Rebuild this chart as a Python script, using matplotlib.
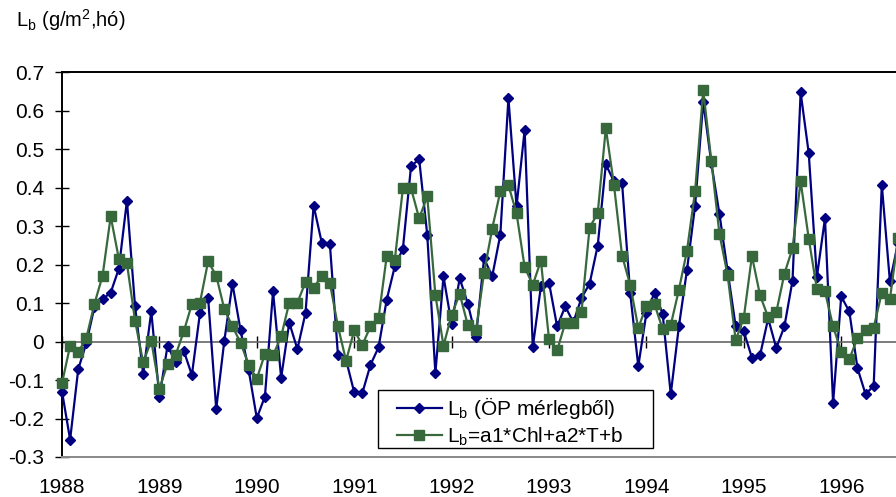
import numpy as np
import matplotlib
matplotlib.use("Agg")
import matplotlib.pyplot as plt
from matplotlib.patches import Rectangle

# monthly values, Jan 1988 onwards
lb_measured = [
    -0.130, -0.255, -0.072, -0.004, 0.090, 0.110, 0.127, 0.189, 0.366, 0.091, -0.084, 0.078,
    -0.145, -0.011, -0.054, -0.024, -0.087, 0.074, 0.114, -0.175, 0.002, 0.150, 0.029, -0.074,
    -0.199, -0.143, 0.130, -0.094, 0.049, -0.020, 0.074, 0.353, 0.257, 0.254, -0.036, -0.048,
    -0.132, -0.134, -0.061, -0.015, 0.108, 0.195, 0.241, 0.455, 0.474, 0.277, -0.082, 0.169,
    0.045, 0.164, 0.098, 0.011, 0.216, 0.169, 0.277, 0.632, 0.351, 0.550, -0.015, 0.143,
    0.153, 0.039, 0.091, 0.050, 0.113, 0.150, 0.249, 0.460, 0.416, 0.412, 0.126, -0.064,
    0.074, 0.127, 0.072, -0.137, 0.039, 0.186, 0.353, 0.623, 0.463, 0.331, 0.184, 0.039,
    0.026, -0.042, -0.036, 0.060, -0.017, 0.039, 0.158, 0.647, 0.489, 0.167, 0.320, -0.160,
    0.117, 0.078, -0.069, -0.137, -0.115, 0.407, 0.156, 0.256,
]
lb_model = [
    -0.108, -0.011, -0.028, 0.009, 0.098, 0.171, 0.325, 0.215, 0.203, 0.054, -0.054, 0.002,
    -0.123, -0.058, -0.035, 0.026, 0.097, 0.101, 0.208, 0.171, 0.084, 0.039, -0.003, -0.061,
    -0.097, -0.032, -0.036, 0.013, 0.101, 0.101, 0.154, 0.139, 0.171, 0.152, 0.039, -0.050,
    0.029, -0.009, 0.039, 0.061, 0.221, 0.212, 0.398, 0.398, 0.320, 0.377, 0.121, -0.011,
    0.069, 0.124, 0.042, 0.029, 0.179, 0.293, 0.390, 0.406, 0.333, 0.193, 0.147, 0.210,
    0.006, -0.023, 0.048, 0.048, 0.076, 0.296, 0.333, 0.554, 0.407, 0.223, 0.147, 0.035,
    0.093, 0.097, 0.032, 0.043, 0.134, 0.236, 0.391, 0.652, 0.469, 0.279, 0.173, 0.003,
    0.062, 0.222, 0.120, 0.063, 0.076, 0.176, 0.242, 0.416, 0.267, 0.137, 0.130, 0.039,
    -0.026, -0.046, 0.009, 0.030, 0.036, 0.127, 0.110, 0.268,
]
years = [1988, 1989, 1990, 1991, 1992, 1993, 1994, 1995, 1996]
y_ticks = [-0.3, -0.2, -0.1, 0, 0.1, 0.2, 0.3, 0.4, 0.5, 0.6, 0.7]

label_measured = "L$_\\mathregular{b}$ (ÖP mérlegből)"
label_model = "L$_\\mathregular{b}$=a1*Chl+a2*T+b"
y_title = "L$_\\mathregular{b}$ (g/m$^\\mathregular{2}$,hó)"

plt.rcParams['font.family'] = ['Liberation Sans', 'DejaVu Sans']

fig = plt.figure(figsize=(8.96, 4.97), dpi=100)
ax = fig.add_axes([62 / 896, 1 - 457 / 497, 1 - 62 / 896, 385 / 497])

x = np.arange(len(lb_measured))
ax.plot(x, lb_measured, color="#000080", lw=1.6, marker="D", ms=5.6,
        label=label_measured, clip_on=False, zorder=3)
ax.plot(x, lb_model, color="#37693c", lw=1.6, marker="s", ms=7,
        label=label_model, clip_on=False, zorder=4)

ymin, ymax = -0.3, 0.7
ax.set_ylim(ymin, ymax)
ax.set_xlim(0, 102.75)
ax.set_yticks(y_ticks)
ax.set_yticklabels([f"{v:g}" for v in y_ticks])

year_pos = [12 * k for k in range(len(years))]
ax.set_xticks(year_pos)
ax.set_xticklabels([str(y) for y in years])
ax.tick_params(axis="x", length=0, pad=15, labelsize=15)
ax.tick_params(axis="y", direction="inout", length=10, width=1, pad=8, labelsize=15)

ax.spines["right"].set_visible(False)
ax.spines["top"].set_linewidth(1.4)
ax.spines["left"].set_linewidth(1.4)
ax.spines["bottom"].set_color("#888888")
ax.spines["bottom"].set_linewidth(1.4)

# category axis crossing at zero
zero_frac = (0 - ymin) / (ymax - ymin)
sec = ax.secondary_xaxis(zero_frac)
sec.set_xticks(year_pos)
sec.set_xticklabels([])
sec.tick_params(direction="inout", length=8, width=1, color="black")
sec.spines["bottom"].set_color("#666666")
sec.spines["bottom"].set_linewidth(1.2)
sec.set_zorder(1)

# legend box drawn separately so the inner padding can match
box = Rectangle((378 / 896, 1 - 448 / 497), 275 / 896, 58 / 497,
                transform=fig.transFigure, facecolor="white", edgecolor="black",
                lw=1.0, zorder=5, clip_on=False)
ax.add_patch(box)
leg = ax.legend(loc="upper left", bbox_to_anchor=(397 / 896, 1 - 395 / 497),
                bbox_transform=fig.transFigure, fontsize=15, frameon=False,
                borderaxespad=0, borderpad=0, handlelength=2.15,
                handletextpad=0.25, labelspacing=0.2)
leg.set_zorder(6)

fig.text(16 / 896, 1 - 27 / 497, y_title, ha="left", va="baseline", fontsize=14.5)

fig.savefig("out.png", dpi=100)
